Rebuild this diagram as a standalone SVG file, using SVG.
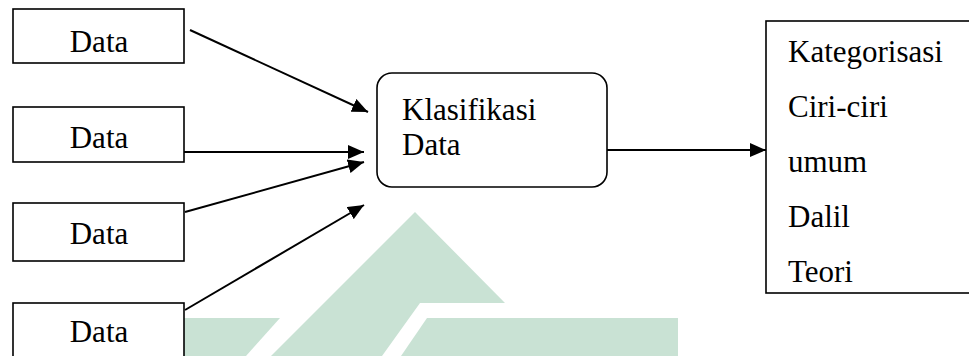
<svg xmlns="http://www.w3.org/2000/svg" width="969" height="356" viewBox="0 0 969 356">
  <style>
    .box { fill: #ffffff; stroke: #000000; stroke-width: 1.6; }
    .lbl { font-size: 31px; fill: #000000; }
    .conn { stroke: #000000; stroke-width: 2; fill: none; marker-end: url(#arrow); }
    .wm { fill: #c9e2d4; }
  </style>
  <defs>
    <marker id="arrow" viewBox="0 0 16 14" refX="16" refY="7" markerWidth="16" markerHeight="14" markerUnits="userSpaceOnUse" orient="auto">
      <path d="M0,0 L16,7 L0,14 Z" fill="#000000"/>
    </marker>
  </defs>
  <rect width="969" height="356" fill="#ffffff"/>
  <g id="watermark">
    <polygon class="wm" points="415,212 505,303 420,303 382,356 271,356"/>
    <polygon class="wm" points="427,318 678,318 678,356 401,356"/>
    <polygon class="wm" points="180,318 280,318 246,356 180,356"/>
  </g>
  <g id="connectors">
    <line class="conn" x1="190" y1="30" x2="368" y2="112"/>
    <line class="conn" x1="184" y1="152" x2="364" y2="152"/>
    <line class="conn" x1="185" y1="212" x2="364" y2="162"/>
    <line class="conn" x1="185" y1="310" x2="364" y2="205"/>
    <line class="conn" x1="607" y1="150" x2="766" y2="150"/>
  </g>
  <g font-family="'Liberation Serif', 'Times New Roman', Tinos, 'DejaVu Serif', serif">
    <g id="data1">
      <rect class="box" x="13" y="9" width="171" height="54"/>
      <text class="lbl" x="99" y="52" text-anchor="middle">Data</text>
    </g>
    <g id="data2">
      <rect class="box" x="13" y="107" width="171" height="55"/>
      <text class="lbl" x="99" y="148" text-anchor="middle">Data</text>
    </g>
    <g id="data3">
      <rect class="box" x="13" y="203" width="171" height="58"/>
      <text class="lbl" x="99" y="244" text-anchor="middle">Data</text>
    </g>
    <g id="data4">
      <rect class="box" x="13" y="303" width="171" height="60"/>
      <text class="lbl" x="99" y="342" text-anchor="middle">Data</text>
    </g>
    <g id="klasifikasi">
      <rect class="box" x="377" y="73" width="230" height="114" rx="15" ry="15"/>
      <text class="lbl" x="402" y="120">Klasifikasi</text>
      <text class="lbl" x="402" y="155">Data</text>
    </g>
    <g id="hasil">
      <rect class="box" x="766" y="21" width="215" height="272"/>
      <text class="lbl" x="788" y="62">Kategorisasi</text>
      <text class="lbl" x="788" y="117">Ciri-ciri</text>
      <text class="lbl" x="788" y="172">umum</text>
      <text class="lbl" x="788" y="227">Dalil</text>
      <text class="lbl" x="788" y="282">Teori</text>
    </g>
  </g>
</svg>
